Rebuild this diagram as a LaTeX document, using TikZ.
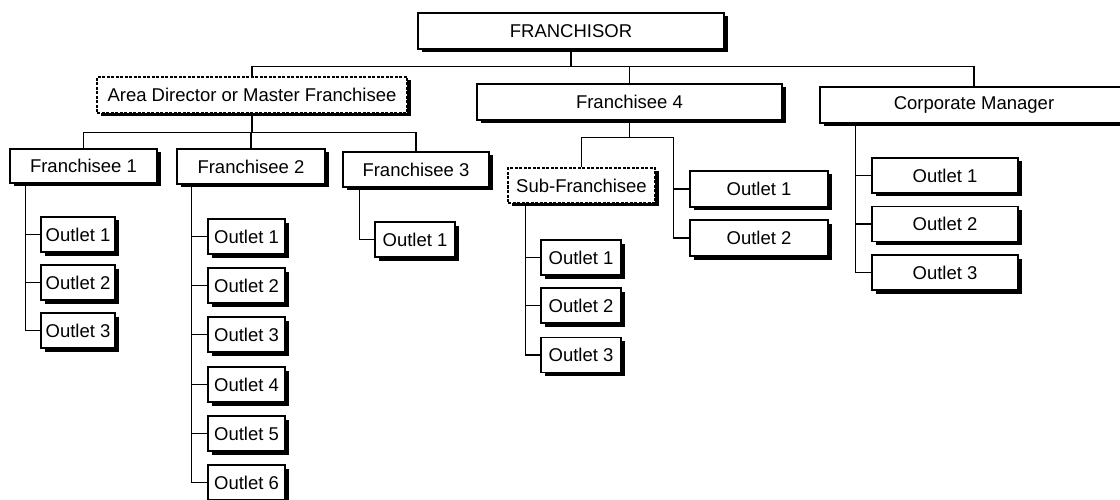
\documentclass[tikz,border=0pt]{standalone}
\usepackage{fontspec}
\setmainfont{Liberation Sans}
\usetikzlibrary{shadows}
\begin{document}
\begin{tikzpicture}[x=1pt,y=-1pt,
  box/.style={draw, line width=1.2pt, fill=white, inner sep=0pt, align=center,
    drop shadow={shadow xshift=3.5pt, shadow yshift=-3.5pt, fill=black, opacity=1}},
  dbox/.style={box, dash pattern=on 3pt off 1.5pt},
  sz/.style 2 args={minimum width=#1pt, minimum height=#2pt},
  link/.style={line width=1.2pt},
  font=\fontsize{18.5}{22}\selectfont]
\useasboundingbox (0,0) rectangle (1120,500);
\clip (0,0) rectangle (1120,500);

% top level
\node[box, sz={306}{36}] (fr) at (571,31) {FRANCHISOR};
\node[dbox, sz={310}{36}] (ad) at (252,95) {Area Director or Master Franchisee};
\node[box, sz={305}{36}] (f4) at (629.5,102) {Franchisee 4};
\node[box, sz={308}{36}] (cm) at (974,105) {Corporate Manager};

% second level
\node[box, sz={147}{34}] (f1) at (83.5,166) {Franchisee 1};
\node[box, sz={148}{35}] (f2) at (251,166.5) {Franchisee 2};
\node[box, sz={146}{35}] (f3) at (416,169.5) {Franchisee 3};
\node[dbox, sz={147}{35}] (sub) at (581.5,185.5) {Sub-Franchisee};

% outlets of Franchisee 1
\node[box, sz={74}{35}] (o11) at (78,234.5) {Outlet 1};
\node[box, sz={74}{35}] (o12) at (78,282.5) {Outlet 2};
\node[box, sz={74}{35}] (o13) at (78,330.5) {Outlet 3};

% outlets of Franchisee 2
\node[box, sz={77}{35}] (o21) at (246.5,236.5) {Outlet 1};
\node[box, sz={77}{35}] (o22) at (246.5,285.5) {Outlet 2};
\node[box, sz={77}{35}] (o23) at (246.5,334.5) {Outlet 3};
\node[box, sz={77}{35}] (o24) at (246.5,384.5) {Outlet 4};
\node[box, sz={77}{35}] (o25) at (246.5,433.5) {Outlet 5};
\node[box, sz={77}{35}] (o26) at (246.5,482.5) {Outlet 6};

% outlet of Franchisee 3
\node[box, sz={80}{35}] (o31) at (415,239.5) {Outlet 1};

% outlets of the sub-franchisee
\node[box, sz={80}{35}] (os1) at (581,257.5) {Outlet 1};
\node[box, sz={80}{35}] (os2) at (581,305.5) {Outlet 2};
\node[box, sz={80}{35}] (os3) at (581,355) {Outlet 3};

% outlets of Franchisee 4
\node[box, sz={138}{36}] (o41) at (759,189) {Outlet 1};
\node[box, sz={138}{36}] (o42) at (759,238) {Outlet 2};

% outlets of the corporate manager
\node[box, sz={146}{35}] (oc1) at (945,175.5) {Outlet 1};
\node[box, sz={146}{35}] (oc2) at (945,224) {Outlet 2};
\node[box, sz={146}{35}] (oc3) at (945,272.5) {Outlet 3};

% connectors: top level
\draw[link] (fr.south) -- ++(0,17) coordinate (b1);
\draw[link] (ad.north) |- (b1) -| (cm.north);
\draw[link] (f4.north) -- (f4.north |- b1);

% connectors: area director
\draw[link] (ad.south) -- ++(0,19) coordinate (b2);
\draw[link] (f1.north) |- (b2) -| (f3.north);
\draw[link] (f2.north) -- (f2.north |- b2);

% spines to the outlets
\coordinate (s1) at ([xshift=16pt]f1.south west);
\draw[link] (s1) |- (o13.west);
\foreach \o in {o11,o12} \draw[link] (\o.west) -- (\o.west -| s1);

\coordinate (s2) at ([xshift=15pt]f2.south west);
\draw[link] (s2) |- (o26.west);
\foreach \o in {o21,o22,o23,o24,o25} \draw[link] (\o.west) -- (\o.west -| s2);

\coordinate (s3) at ([xshift=17pt]f3.south west);
\draw[link] (s3) |- (o31.west);

\coordinate (ss) at ([xshift=18pt]sub.south west);
\draw[link] (ss) |- (os3.west);
\foreach \o in {os1,os2} \draw[link] (\o.west) -- (\o.west -| ss);

% connectors: franchisee 4
\draw[link] (f4.south) -- ++(0,17) coordinate (b3);
\coordinate (s4) at ([xshift=-16pt]o41.west |- b3);
\draw[link] (sub.north) |- (s4) |- (o42.west);
\draw[link] (o41.west) -- (o41.west -| s4);

% connectors: corporate manager
\coordinate (s5) at ([xshift=36pt]cm.south west);
\draw[link] (s5) |- (oc3.west);
\foreach \o in {oc1,oc2} \draw[link] (\o.west) -- (\o.west -| s5);
\end{tikzpicture}
\end{document}
